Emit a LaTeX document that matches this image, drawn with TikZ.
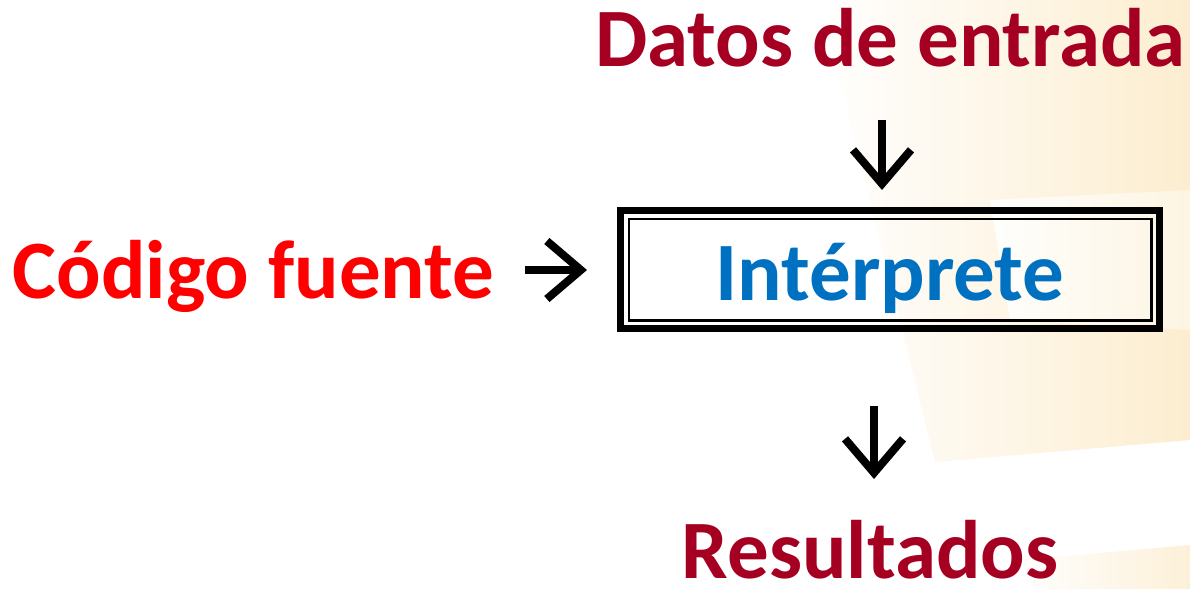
\documentclass[tikz,border=0pt]{standalone}
\usepackage{fontspec}
\setmainfont{Carlito}
\usetikzlibrary{arrows.meta}
\definecolor{datared}{HTML}{A50021}
\definecolor{srcred}{HTML}{FF0000}
\definecolor{interpblue}{HTML}{0070C0}
\definecolor{bgwarm}{HTML}{FCEBC8}
\definecolor{bgwarmlight}{HTML}{FEF6E6}
\begin{document}
\begin{tikzpicture}[x=1pt,y=-1pt,
  lbl/.style={font=\fontsize{83}{90}\selectfont\bfseries, inner sep=0pt, anchor=base},
  arr/.style={line width=8pt, -{Straight Barb[length=34pt,width=58pt,line width=8pt]}},
]
\useasboundingbox (0,0) rectangle (1190,589);
\fill[white] (0,0) rectangle (1190,589);
% faint background decoration
\shade[left color=white, right color=bgwarm, opacity=0.85]
  (820,0) -- (1190,0) -- (1190,440) -- (935,462) -- cycle;
\shade[left color=white, right color=bgwarmlight, opacity=0.9]
  (990,200) -- (1190,190) -- (1190,330) -- (1010,320) -- cycle;
\shade[left color=white, right color=bgwarm, opacity=0.7]
  (1020,560) -- (1190,545) -- (1190,589) -- (1030,589) -- cycle;
% nodes
\node[lbl, text=datared] (datos) at (890.5,66) {Datos de entrada};
\node[lbl, text=srcred] (codigo) at (253.5,298) {Código fuente};
\node[lbl, text=interpblue, anchor=center, text height=61pt, text depth=0pt,
      minimum width=542pt, minimum height=121pt, draw, line width=4.5pt]
      (box) at (890,269.5) {Intérprete};
\draw[line width=3pt] ([shift={(6,6)}]box.north west) rectangle ([shift={(-6,-6)}]box.south east);
\draw[line width=2.5pt] ([shift={(12,12)}]box.north west) rectangle ([shift={(-12,-12)}]box.south east);
\node[lbl, text=datared, text depth=0pt] (result) at (870,578) {Resultados};
% arrows
\coordinate (a1s) at (882,120);
\coordinate (a1e) at (882,190);
\coordinate (a2s) at (525,270);
\coordinate (a2e) at (587,270);
\coordinate (a3s) at (874,406);
\coordinate (a3e) at (874,479);
\draw[arr] (a1s) -- (a1e);
\draw[arr] (a2s) -- (a2e);
\draw[arr] (a3s) -- (a3e);
\end{tikzpicture}
\end{document}
